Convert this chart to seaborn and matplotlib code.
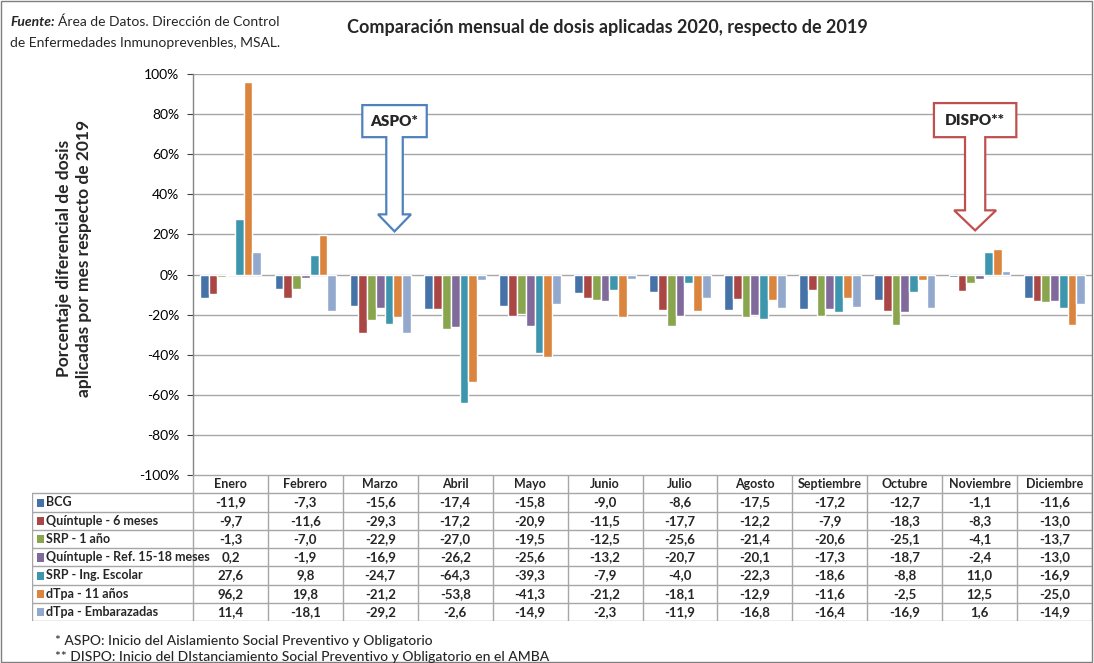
import matplotlib
matplotlib.use("Agg")
import matplotlib.pyplot as plt
from matplotlib.patches import Polygon, Rectangle
from matplotlib.ticker import FuncFormatter
import seaborn as sns
import pandas as pd

months = ["Enero", "Febrero", "Marzo", "Abril", "Mayo", "Junio", "Julio",
          "Agosto", "Septiembre", "Octubre", "Noviembre", "Diciembre"]
series = ["BCG", "Quíntuple - 6 meses", "SRP - 1 año",
          "Quíntuple - Ref. 15-18 meses", "SRP - Ing. Escolar",
          "dTpa - 11 años", "dTpa - Embarazadas"]
bcg = [-11.9, -7.3, -15.6, -17.4, -15.8, -9.0, -8.6, -17.5, -17.2, -12.7, -1.1, -11.6]
quintuple_6 = [-9.7, -11.6, -29.3, -17.2, -20.9, -11.5, -17.7, -12.2, -7.9, -18.3, -8.3, -13.0]
srp_1 = [-1.3, -7.0, -22.9, -27.0, -19.5, -12.5, -25.6, -21.4, -20.6, -25.1, -4.1, -13.7]
quintuple_ref = [0.2, -1.9, -16.9, -26.2, -25.6, -13.2, -20.7, -20.1, -17.3, -18.7, -2.4, -13.0]
srp_escolar = [27.6, 9.8, -24.7, -64.3, -39.3, -7.9, -4.0, -22.3, -18.6, -8.8, 11.0, -16.9]
dtpa_11 = [96.2, 19.8, -21.2, -53.8, -41.3, -21.2, -18.1, -12.9, -11.6, -2.5, 12.5, -25.0]
dtpa_emb = [11.4, -18.1, -29.2, -2.6, -14.9, -2.3, -11.9, -16.8, -16.4, -16.9, 1.6, -14.9]
values = [bcg, quintuple_6, srp_1, quintuple_ref, srp_escolar, dtpa_11, dtpa_emb]
colors = ["#4572A7", "#AA4643", "#89A54E", "#80699B", "#3D96AE", "#DB843D", "#92A8CD"]
yticks = [-100, -80, -60, -40, -20, 0, 20, 40, 60, 80, 100]

rows = []
for s, vals in zip(series, values):
    for m, v in zip(months, vals):
        rows.append({"Mes": m, "Serie": s, "Valor": v})
df = pd.DataFrame(rows)

sns.set_theme(style="white")
plt.rcParams["font.family"] = ["Lato", "DejaVu Sans"]

W, H = 1094, 663
fig = plt.figure(figsize=(W / 100, H / 100), dpi=100)

def fx(px):
    return px / W

def fy(py):
    return 1 - py / H

ax_l, ax_r, ax_t, ax_b = 193, 1092, 74, 475
ax = fig.add_axes([fx(ax_l), fy(ax_b), fx(ax_r - ax_l), (ax_b - ax_t) / H])
sns.barplot(data=df, x="Mes", y="Valor", hue="Serie", order=months,
            hue_order=series, palette=colors, saturation=1, width=0.82,
            ax=ax, legend=False, errorbar=None, zorder=3)
ax.set_ylim(-100, 100)
ax.set_xlim(-0.5, 11.5)
ax.set_yticks(yticks)
ax.yaxis.set_major_formatter(FuncFormatter(lambda v, p: f"{int(v)}%"))
ax.tick_params(axis="y", labelsize=10, colors="#404040", length=4,
               width=0.8, direction="out", left=True, pad=6)
ax.tick_params(axis="y", labelcolor="#000000")
ax.set_xticks([])
ax.set_xlabel("")
ax.set_ylabel("Porcentaje diferencial de dosis\naplicadas por mes respecto de 2019",
              fontsize=12.5, fontweight="bold", linespacing=1.3)
ax.yaxis.set_label_coords((92 - ax_l) / (ax_r - ax_l), (ax_b - 258) / (ax_b - ax_t))
for y in yticks:
    ax.axhline(y, color="#A6A6A6", lw=1.0, zorder=1)
for sp in ["top", "right", "bottom"]:
    ax.spines[sp].set_visible(False)
ax.spines["left"].set_color("#868686")
ax.spines["left"].set_linewidth(1.0)

# Block arrow callouts
def callout(xc, text, edge, box_hw, box_y0, box_y1, shaft_hw, head_hw, head_y, tip_y):
    pts = [(xc - box_hw, box_y1), (xc + box_hw, box_y1), (xc + box_hw, box_y0),
           (xc + shaft_hw, box_y0), (xc + shaft_hw, head_y), (xc + head_hw, head_y),
           (xc, tip_y), (xc - head_hw, head_y), (xc - shaft_hw, head_y),
           (xc - shaft_hw, box_y0), (xc - box_hw, box_y0)]
    ax.add_patch(Polygon(pts, closed=True, facecolor="white", edgecolor=edge,
                         lw=1.6, zorder=5))
    ax.text(xc, (box_y0 + box_y1) / 2, text, ha="center", va="center",
            fontsize=11, fontweight="heavy", zorder=6)

callout(2.19, "ASPO*", "#4F81BD", 0.43, 68.5, 84.5, 0.11, 0.22, 30, 21.5)
callout(9.94, "DISPO**", "#C0504D", 0.55, 68.5, 85.5, 0.135, 0.28, 32, 22)

# Data table
lab_l = 32
cat_w = (ax_r - ax_l) / 12
tab_b = 621
tax = fig.add_axes([fx(lab_l), fy(tab_b), fx(ax_r - lab_l), (tab_b - ax_b) / H])
x_left = -0.5 - (ax_l - lab_l) / cat_w
tax.set_xlim(x_left, 11.5)
tax.set_ylim(len(series) - 0.5, -1.5)
tax.axis("off")
lc = "#A6A6A6"
tax.plot([-0.5, 11.5], [-1.5, -1.5], color=lc, lw=1)
for k in range(len(series) + 1):
    tax.plot([x_left, 11.5], [k - 0.5, k - 0.5], color=lc, lw=1)
tax.plot([x_left, x_left], [-0.5, len(series) - 0.5], color=lc, lw=1)
for k in range(13):
    tax.plot([k - 0.5, k - 0.5], [-1.5, len(series) - 0.5], color=lc, lw=1)
for i, m in enumerate(months):
    tax.text(i, -1, m, ha="center", va="center", fontsize=9, fontweight="bold")
for r, (s, vals, c) in enumerate(zip(series, values, colors)):
    tax.add_patch(Rectangle((x_left + 0.07, r - 0.2), 0.09, 0.45,
                            facecolor=c, edgecolor="none"))
    tax.text(x_left + 0.19, r, s, ha="left", va="center", fontsize=9,
             fontweight="bold")
    for i, v in enumerate(vals):
        tax.text(i, r, f"{v:.1f}".replace(".", ","), ha="center", va="center",
                 fontsize=9.5, fontweight="bold")

# Texts
fig.text(fx(607), fy(28), "Comparación mensual de dosis aplicadas 2020, respecto de 2019",
         ha="center", va="center", fontsize=13, fontweight="bold")
t1 = fig.text(fx(10), fy(22), "Fuente:", ha="left", va="center", fontsize=10,
              fontweight="bold", fontstyle="italic")
fig.canvas.draw()
bb = t1.get_window_extent()
fig.text(bb.x1 / W + 3 / W, fy(22), "Área de Datos. Dirección de Control",
         ha="left", va="center", fontsize=10)
fig.text(fx(10), fy(43), "de Enfermedades Inmunoprevenbles, MSAL.",
         ha="left", va="center", fontsize=10)
fig.text(fx(55), fy(641), "* ASPO: Inicio del Aislamiento Social Preventivo y Obligatorio",
         ha="left", va="center", fontsize=10, fontweight="medium")
fig.text(fx(55), fy(657), "** DISPO: Inicio del DIstanciamiento Social Preventivo y Obligatorio en el AMBA",
         ha="left", va="center", fontsize=10, fontweight="medium")

fig.add_artist(Rectangle((0.001, 0.001), 0.997, 0.997, transform=fig.transFigure,
                         facecolor="none", edgecolor="#7F7F7F", lw=1))

fig.savefig("out.png", dpi=100)
